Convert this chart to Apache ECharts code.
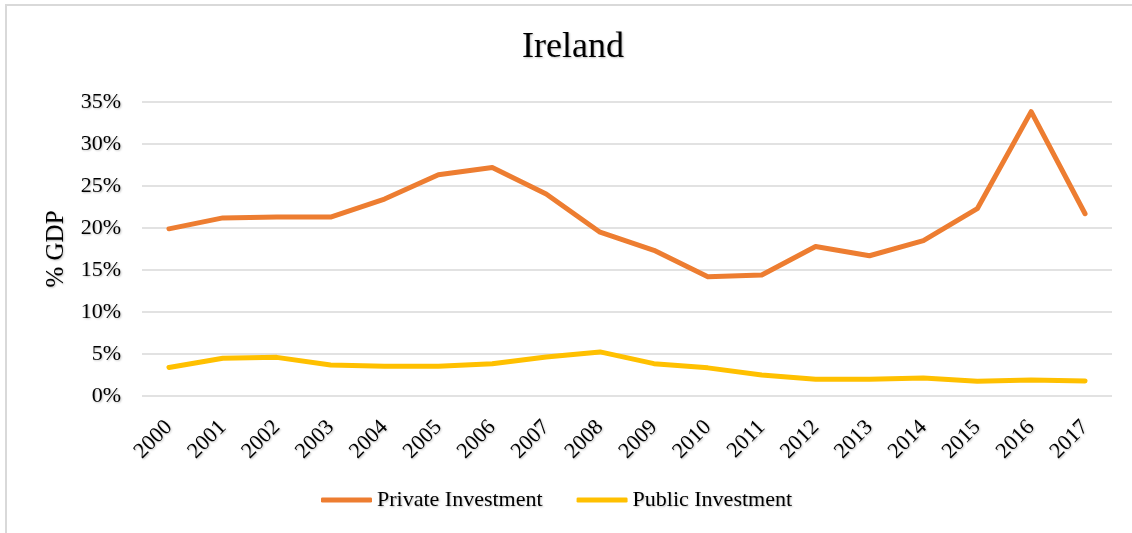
<!DOCTYPE html>
<html>
<head>
<meta charset="utf-8">
<script src="https://cdn.jsdelivr.net/npm/echarts@6/dist/echarts.min.js"></script>
<style>
  html, body { margin: 0; padding: 0; background: #fff; }
  #chart { width: 1132px; height: 533px; }
</style>
</head>
<body>
<div id="chart"></div>
<script>
// Investment as a share of GDP, Ireland
const years = ['2000','2001','2002','2003','2004','2005','2006','2007','2008',
               '2009','2010','2011','2012','2013','2014','2015','2016','2017'];
const privateInvestment = [19.9, 21.2, 21.3, 21.3, 23.45, 26.35, 27.2, 24.05, 19.5,
                           17.35, 14.2, 14.4, 17.8, 16.7, 18.5, 22.3, 33.85, 21.7];
const publicInvestment = [3.4, 4.5, 4.6, 3.7, 3.55, 3.55, 3.85, 4.65, 5.25,
                          3.85, 3.35, 2.5, 2.0, 2.0, 2.15, 1.75, 1.9, 1.8];
const yTicks = [0, 5, 10, 15, 20, 25, 30, 35];

const serif = '"Liberation Serif", "Times New Roman", serif';
const shadow = { textShadowColor: 'rgba(0,0,0,0.25)', textShadowBlur: 2, textShadowOffsetX: 1, textShadowOffsetY: 1 };

const chart = echarts.init(document.getElementById('chart'), null, { renderer: 'canvas' });
chart.setOption({
  backgroundColor: '#ffffff',
  animation: false,
  graphic: [{
    type: 'rect',
    shape: { x: 6, y: 5, width: 1200, height: 600 },
    style: { fill: 'none', stroke: '#d9d9d9', lineWidth: 2 },
    silent: true
  }],
  title: {
    text: 'Ireland',
    left: 522,
    top: 30,
    padding: 0,
    textStyle: Object.assign({ fontFamily: serif, fontSize: 36, fontWeight: 'normal', color: '#000' }, shadow)
  },
  legend: {
    top: 489,
    left: 321,
    padding: 0,
    itemWidth: 51,
    itemHeight: 5,
    itemGap: 34,
    icon: 'roundRect',
    textStyle: Object.assign({ fontFamily: serif, fontSize: 22, color: '#000' }, shadow),
    data: ['Private Investment', 'Public Investment']
  },
  grid: { left: 142, right: 20, top: 102, bottom: 137, containLabel: false },
  xAxis: {
    type: 'category',
    data: years,
    boundaryGap: true,
    axisLine: { show: false },
    axisTick: { show: false },
    axisLabel: Object.assign({
      rotate: 45, margin: 28, fontFamily: serif, fontSize: 22, color: '#000', interval: 0
    }, shadow)
  },
  yAxis: {
    type: 'value',
    min: yTicks[0],
    max: yTicks[yTicks.length - 1],
    interval: 5,
    name: '% GDP',
    nameLocation: 'middle',
    nameGap: 73,
    nameTextStyle: Object.assign({ fontFamily: serif, fontSize: 25, color: '#000' }, shadow),
    axisLine: { show: false },
    axisTick: { show: false },
    axisLabel: Object.assign({
      formatter: '{value}%', margin: 21, fontFamily: serif, fontSize: 22, color: '#000'
    }, shadow),
    splitLine: { lineStyle: { color: '#d9d9d9', width: 1.5 } }
  },
  series: [
    {
      name: 'Private Investment',
      type: 'line',
      data: privateInvestment,
      symbol: 'none',
      color: '#ED7D31',
      lineStyle: { width: 5, cap: 'round', join: 'round' }
    },
    {
      name: 'Public Investment',
      type: 'line',
      data: publicInvestment,
      symbol: 'none',
      color: '#FFC000',
      lineStyle: { width: 5, cap: 'round', join: 'round' }
    }
  ]
});
</script>
</body>
</html>
